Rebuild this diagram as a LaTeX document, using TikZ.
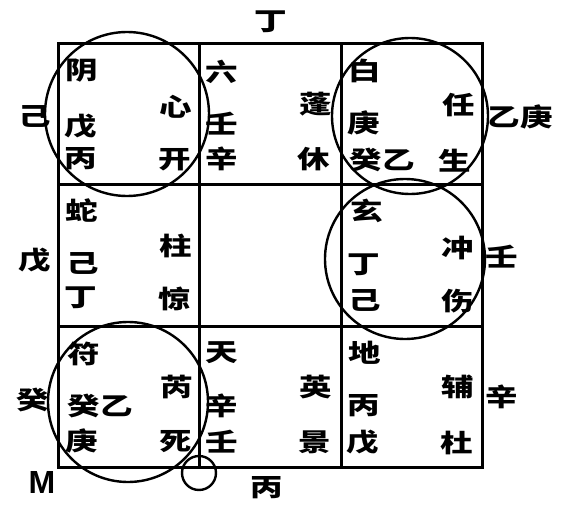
\documentclass[tikz,border=0pt]{standalone}
\usepackage{fontspec}
\newfontfamily\cjk{Noto Sans CJK SC}
\setsansfont{Liberation Sans}
\tikzset{
  glyph/.style={font=\cjk\bfseries\fontsize{25}{25}\selectfont,inner sep=0pt,xscale=1.3},
  ring/.style={line width=2.4pt},
  frame/.style={line width=3pt},
}
\begin{document}
\begin{tikzpicture}[x=1pt,y=-1pt]
\useasboundingbox (0,0) rectangle (576,511);
% grid
\draw[frame] (58,44) rectangle (482,467);
\draw[frame] (199,44) -- (199,467) (341,44) -- (341,467);
\draw[frame] (58,184) -- (482,184) (58,326) -- (482,326);
% circles
\draw[ring] (127,114) circle (82);
\draw[ring] (410,116) circle (78);
\draw[ring] (405,259) circle (80);
\draw[ring] (128,402) circle (80);
\draw[ring] (199,473) circle (17);
% outside
\node[glyph] (top) at (271,22) {丁};
\node[glyph] (bot) at (267,488) {丙};
\node[glyph] (lt) at (35,116) {己};
\node[glyph] (lm) at (35,260) {戊};
\node[glyph] (lb) at (33,400) {癸};
\node[glyph] (rt) at (520,117) {乙庚};
\node[glyph] (rm) at (502,257) {壬};
\node[glyph] (rb) at (502,397) {辛};
\node[font=\sffamily\bfseries\fontsize{32}{32}\selectfont,inner sep=0pt] (m) at (42,482) {M};
% top row
\node[glyph] (a1) at (82,71) {阴};
\node[glyph] (a2) at (81,126) {戊};
\node[glyph] (a3) at (81,159) {丙};
\node[glyph] (a4) at (176,107) {心};
\node[glyph] (a5) at (175,160) {开};
\node[glyph] (b1) at (222,72) {六};
\node[glyph] (b2) at (222,124) {壬};
\node[glyph] (b3) at (222,159) {辛};
\node[glyph] (b4) at (316,104) {蓬};
\node[glyph] (b5) at (314,159) {休};
\node[glyph] (c1) at (365,71) {白};
\node[glyph] (c2) at (364,123) {庚};
\node[glyph] (c3) at (382,160) {癸乙};
\node[glyph] (c4) at (459,105) {任};
\node[glyph] (c5) at (455,161) {生};
% middle row
\node[glyph] (d1) at (82,211) {蛇};
\node[glyph] (d2) at (83,263) {己};
\node[glyph] (d3) at (81,298) {丁};
\node[glyph] (d4) at (176,246) {柱};
\node[glyph] (d5) at (175,299) {惊};
\node[glyph] (f1) at (367,211) {玄};
\node[glyph] (f2) at (364,265) {丁};
\node[glyph] (f3) at (365,300) {己};
\node[glyph] (f4) at (458,248) {冲};
\node[glyph] (f5) at (458,301) {伤};
% bottom row
\node[glyph] (g1) at (84,354) {符};
\node[glyph] (g2) at (100,406) {癸乙};
\node[glyph] (g3) at (82,441) {庚};
\node[glyph] (g4) at (177,387) {芮};
\node[glyph] (g5) at (176,442) {死};
\node[glyph] (h1) at (222,353) {天};
\node[glyph] (h2) at (222,406) {辛};
\node[glyph] (h3) at (222,442) {壬};
\node[glyph] (h4) at (316,387) {英};
\node[glyph] (h5) at (315,442) {景};
\node[glyph] (k1) at (365,353) {地};
\node[glyph] (k2) at (364,406) {丙};
\node[glyph] (k3) at (363,442) {戊};
\node[glyph] (k4) at (458,387) {辅};
\node[glyph] (k5) at (457,443) {杜};
\end{tikzpicture}
\end{document}
